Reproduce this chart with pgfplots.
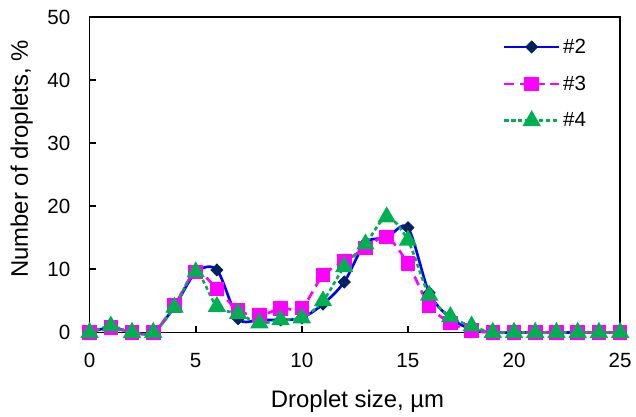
\documentclass[border=0pt]{standalone}
\usepackage{pgfplots}
\pgfplotsset{compat=1.18}
\usepackage{fontspec}
\setmainfont{Liberation Sans}

\definecolor{s2line}{RGB}{0,0,255}
\definecolor{s2mark}{RGB}{0,32,96}
\definecolor{s3col}{RGB}{255,0,255}
\definecolor{s4col}{RGB}{0,176,80}

\begin{document}
\begin{tikzpicture}[x=0.75pt,y=0.75pt]
% outer frame of the image size (636x417 px at 0.75pt/px)
\path (-90,-83) rectangle (546,334);
\begin{axis}[
    at={(0,0)}, anchor=south west,
    scale only axis,
    width=399.75pt, height=237.75pt,
    xmin=0, xmax=25, ymin=0, ymax=50,
    xtick={0,5,...,25}, ytick={0,10,...,50},
    xtick pos=bottom, ytick pos=left,
    tick align=inside,
    major tick length=4.5pt,
    axis line style={line width=1.3pt},
    major tick style={line width=1.3pt, black},
    /pgf/number format/assume math mode=true,
    tick label style={font=\fontsize{15.5}{18}\selectfont},
    label style={font=\fontsize{18}{21}\selectfont},
    xticklabel style={yshift=-12pt},
    yticklabel style={xshift=-11pt},
    xlabel={Droplet size, µm},
    ylabel={Number of droplets, \%},
    xlabel style={at={(axis description cs:0.505,-0.218)}, anchor=center},
    ylabel style={at={(axis description cs:-0.128,0.55)}, anchor=center},
    legend style={draw=none, fill=none, font=\fontsize{15.5}{18}\selectfont,
        at={(0.779,0.94)}, anchor=north west, row sep=11.5pt,
        inner sep=0pt},
    legend cell align=left,
    legend image code/.code={\draw[mark repeat=2,mark phase=2]
        plot coordinates {(0cm,0cm) (0.72cm,0cm) (1.45cm,0cm)};},
    clip=false,
]

\addplot[smooth, color=s2line, line width=2pt,
    mark=diamond*, mark size=4.6pt,
    mark options={solid, xscale=1.33, fill=s2mark, draw=s2mark, line width=0.5pt}]
coordinates {
 (0,0) (1,0.8) (2,0) (3,0) (4,4.1) (5,9.5) (6,9.9) (7,2.2) (8,2.0)
 (9,2.0) (10,2.3) (11,4.5) (12,8.0) (13,14.2) (14,15.0) (15,16.6)
 (16,6.3) (17,2.3) (18,0.5) (19,0) (20,0) (21,0) (22,0) (23,0) (24,0) (25,0)
};
\addlegendentry{\#2}

\addplot[smooth, color=s3col, line width=2pt,
    dash pattern=on 7pt off 4.5pt,
    mark=square*, mark size=4.5pt,
    mark options={solid, fill=s3col, draw=s3col}]
coordinates {
 (0,0) (1,0.8) (2,0) (3,0) (4,4.3) (5,9.6) (6,6.9) (7,3.5) (8,2.7)
 (9,3.8) (10,3.9) (11,9.1) (12,11.2) (13,13.4) (14,15.1) (15,10.9)
 (16,4.3) (17,1.5) (18,0.3) (19,0) (20,0) (21,0) (22,0) (23,0) (24,0) (25,0)
};
\addlegendentry{\#3}

\addplot[smooth, color=s4col, line width=2pt,
    dash pattern=on 3pt off 2.2pt,
    mark=triangle*, mark size=6pt,
    mark options={solid, fill=s4col, draw=s4col}]
coordinates {
 (0,0) (1,1.0) (2,0) (3,0) (4,4.0) (5,9.6) (6,4.1) (7,3.0) (8,1.5)
 (9,2.0) (10,2.3) (11,5.0) (12,10.4) (13,14.0) (14,18.3) (15,14.6)
 (16,5.9) (17,2.5) (18,1.0) (19,0) (20,0) (21,0) (22,0) (23,0) (24,0) (25,0)
};
\addlegendentry{\#4}

\end{axis}
\end{tikzpicture}
\end{document}
